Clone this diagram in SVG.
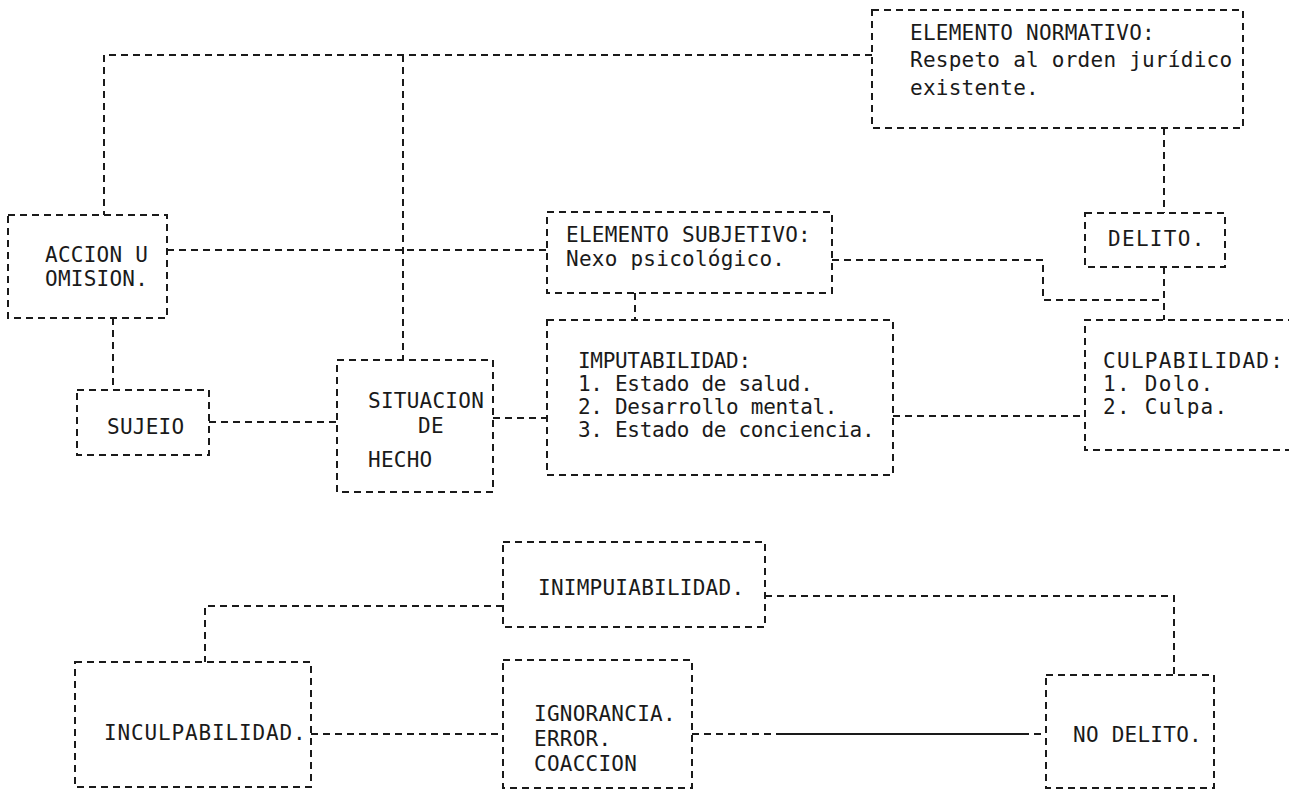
<svg xmlns="http://www.w3.org/2000/svg" width="1289" height="792" viewBox="0 0 1289 792">
  <style>
    .box { fill: none; stroke: #1a1a1a; stroke-width: 2; stroke-dasharray: 7 5; }
    .link { fill: none; stroke: #1a1a1a; stroke-width: 2; stroke-dasharray: 7 5; }
    .solid { fill: none; stroke: #1a1a1a; stroke-width: 2; }
    text { font-family: "DejaVu Sans Mono", "Liberation Mono", monospace; font-size: 21px; letter-spacing: 0.25px; fill: #1a1a1a; }
    .tight { letter-spacing: -0.3px; }
    .wide { letter-spacing: 0.85px; }
    .wider { letter-spacing: 1.3px; }
  </style>
  <rect width="1289" height="792" fill="#ffffff"/>

  <!-- connectors -->
  <g id="connectors">
    <path class="link" d="M872,55 H104 V215"/>
    <path class="link" d="M403,55 V360"/>
    <path class="link" d="M167,250 H547"/>
    <path class="link" d="M1164,128 V213"/>
    <path class="link" d="M832,260 H1043 V300 H1164"/>
    <path class="link" d="M1164,267 V320"/>
    <path class="link" d="M635,293 V320"/>
    <path class="link" d="M113,318 V390"/>
    <path class="link" d="M209,422 H337"/>
    <path class="link" d="M493,418 H547"/>
    <path class="link" d="M893,416 H1085"/>
    <path class="link" d="M503,606 H205 V662"/>
    <path class="link" d="M765,596 H1174 V675"/>
    <path class="link" d="M311,734 H503"/>
    <path class="link" d="M692,734 H782"/>
    <path class="solid" d="M782,734 H1022"/>
    <path class="link" d="M1022,734 H1046"/>
  </g>

  <g id="elemento-normativo">
    <rect class="box" x="872" y="10" width="371" height="118"/>
    <text x="910" y="40">ELEMENTO NORMATIVO:</text>
    <text x="910" y="67">Respeto al orden jurídico</text>
    <text x="910" y="95">existente.</text>
  </g>

  <g id="accion-omision">
    <rect class="box" x="8" y="215" width="159" height="103"/>
    <text x="45" y="262">ACCION U</text>
    <text x="45" y="286">OMISION.</text>
  </g>

  <g id="elemento-subjetivo">
    <rect class="box" x="547" y="212" width="285" height="81"/>
    <text x="566" y="242">ELEMENTO SUBJETIVO:</text>
    <text x="566" y="266">Nexo psicológico.</text>
  </g>

  <g id="delito">
    <rect class="box" x="1085" y="213" width="140" height="54"/>
    <text class="wider" x="1108" y="246">DELITO.</text>
  </g>

  <g id="imputabilidad">
    <rect class="box" x="547" y="320" width="346" height="155"/>
    <text class="tight" x="578" y="368">IMPUTABILIDAD:</text>
    <text class="tight" x="578" y="391">1. Estado de salud.</text>
    <text class="tight" x="578" y="414">2. Desarrollo mental.</text>
    <text class="tight" x="578" y="437">3. Estado de conciencia.</text>
  </g>

  <g id="culpabilidad">
    <path class="box" d="M1295,320 H1085 V450 H1295"/>
    <text class="wider" x="1103" y="368">CULPABILIDAD:</text>
    <text class="wider" x="1103" y="391">1. Dolo.</text>
    <text class="wider" x="1103" y="414">2. Culpa.</text>
  </g>

  <g id="sujeto">
    <rect class="box" x="77" y="390" width="132" height="65"/>
    <text x="107" y="434">SUJEIO</text>
  </g>

  <g id="situacion-de-hecho">
    <rect class="box" x="337" y="360" width="156" height="132"/>
    <text x="368" y="408">SITUACION</text>
    <text x="418" y="433">DE</text>
    <text x="368" y="467">HECHO</text>
  </g>

  <g id="inimputabilidad">
    <rect class="box" x="503" y="542" width="262" height="85"/>
    <text x="538" y="595">INIMPUIABILIDAD.</text>
  </g>

  <g id="inculpabilidad">
    <rect class="box" x="75" y="662" width="236" height="125"/>
    <text class="wide" x="104" y="740">INCULPABILIDAD.</text>
  </g>

  <g id="ignorancia-error-coaccion">
    <rect class="box" x="503" y="660" width="189" height="128"/>
    <text x="534" y="721">IGNORANCIA.</text>
    <text x="534" y="746">ERROR.</text>
    <text x="534" y="771">COACCION</text>
  </g>

  <g id="no-delito">
    <rect class="box" x="1046" y="675" width="168" height="113"/>
    <text x="1073" y="742">NO DELITO.</text>
  </g>
</svg>
